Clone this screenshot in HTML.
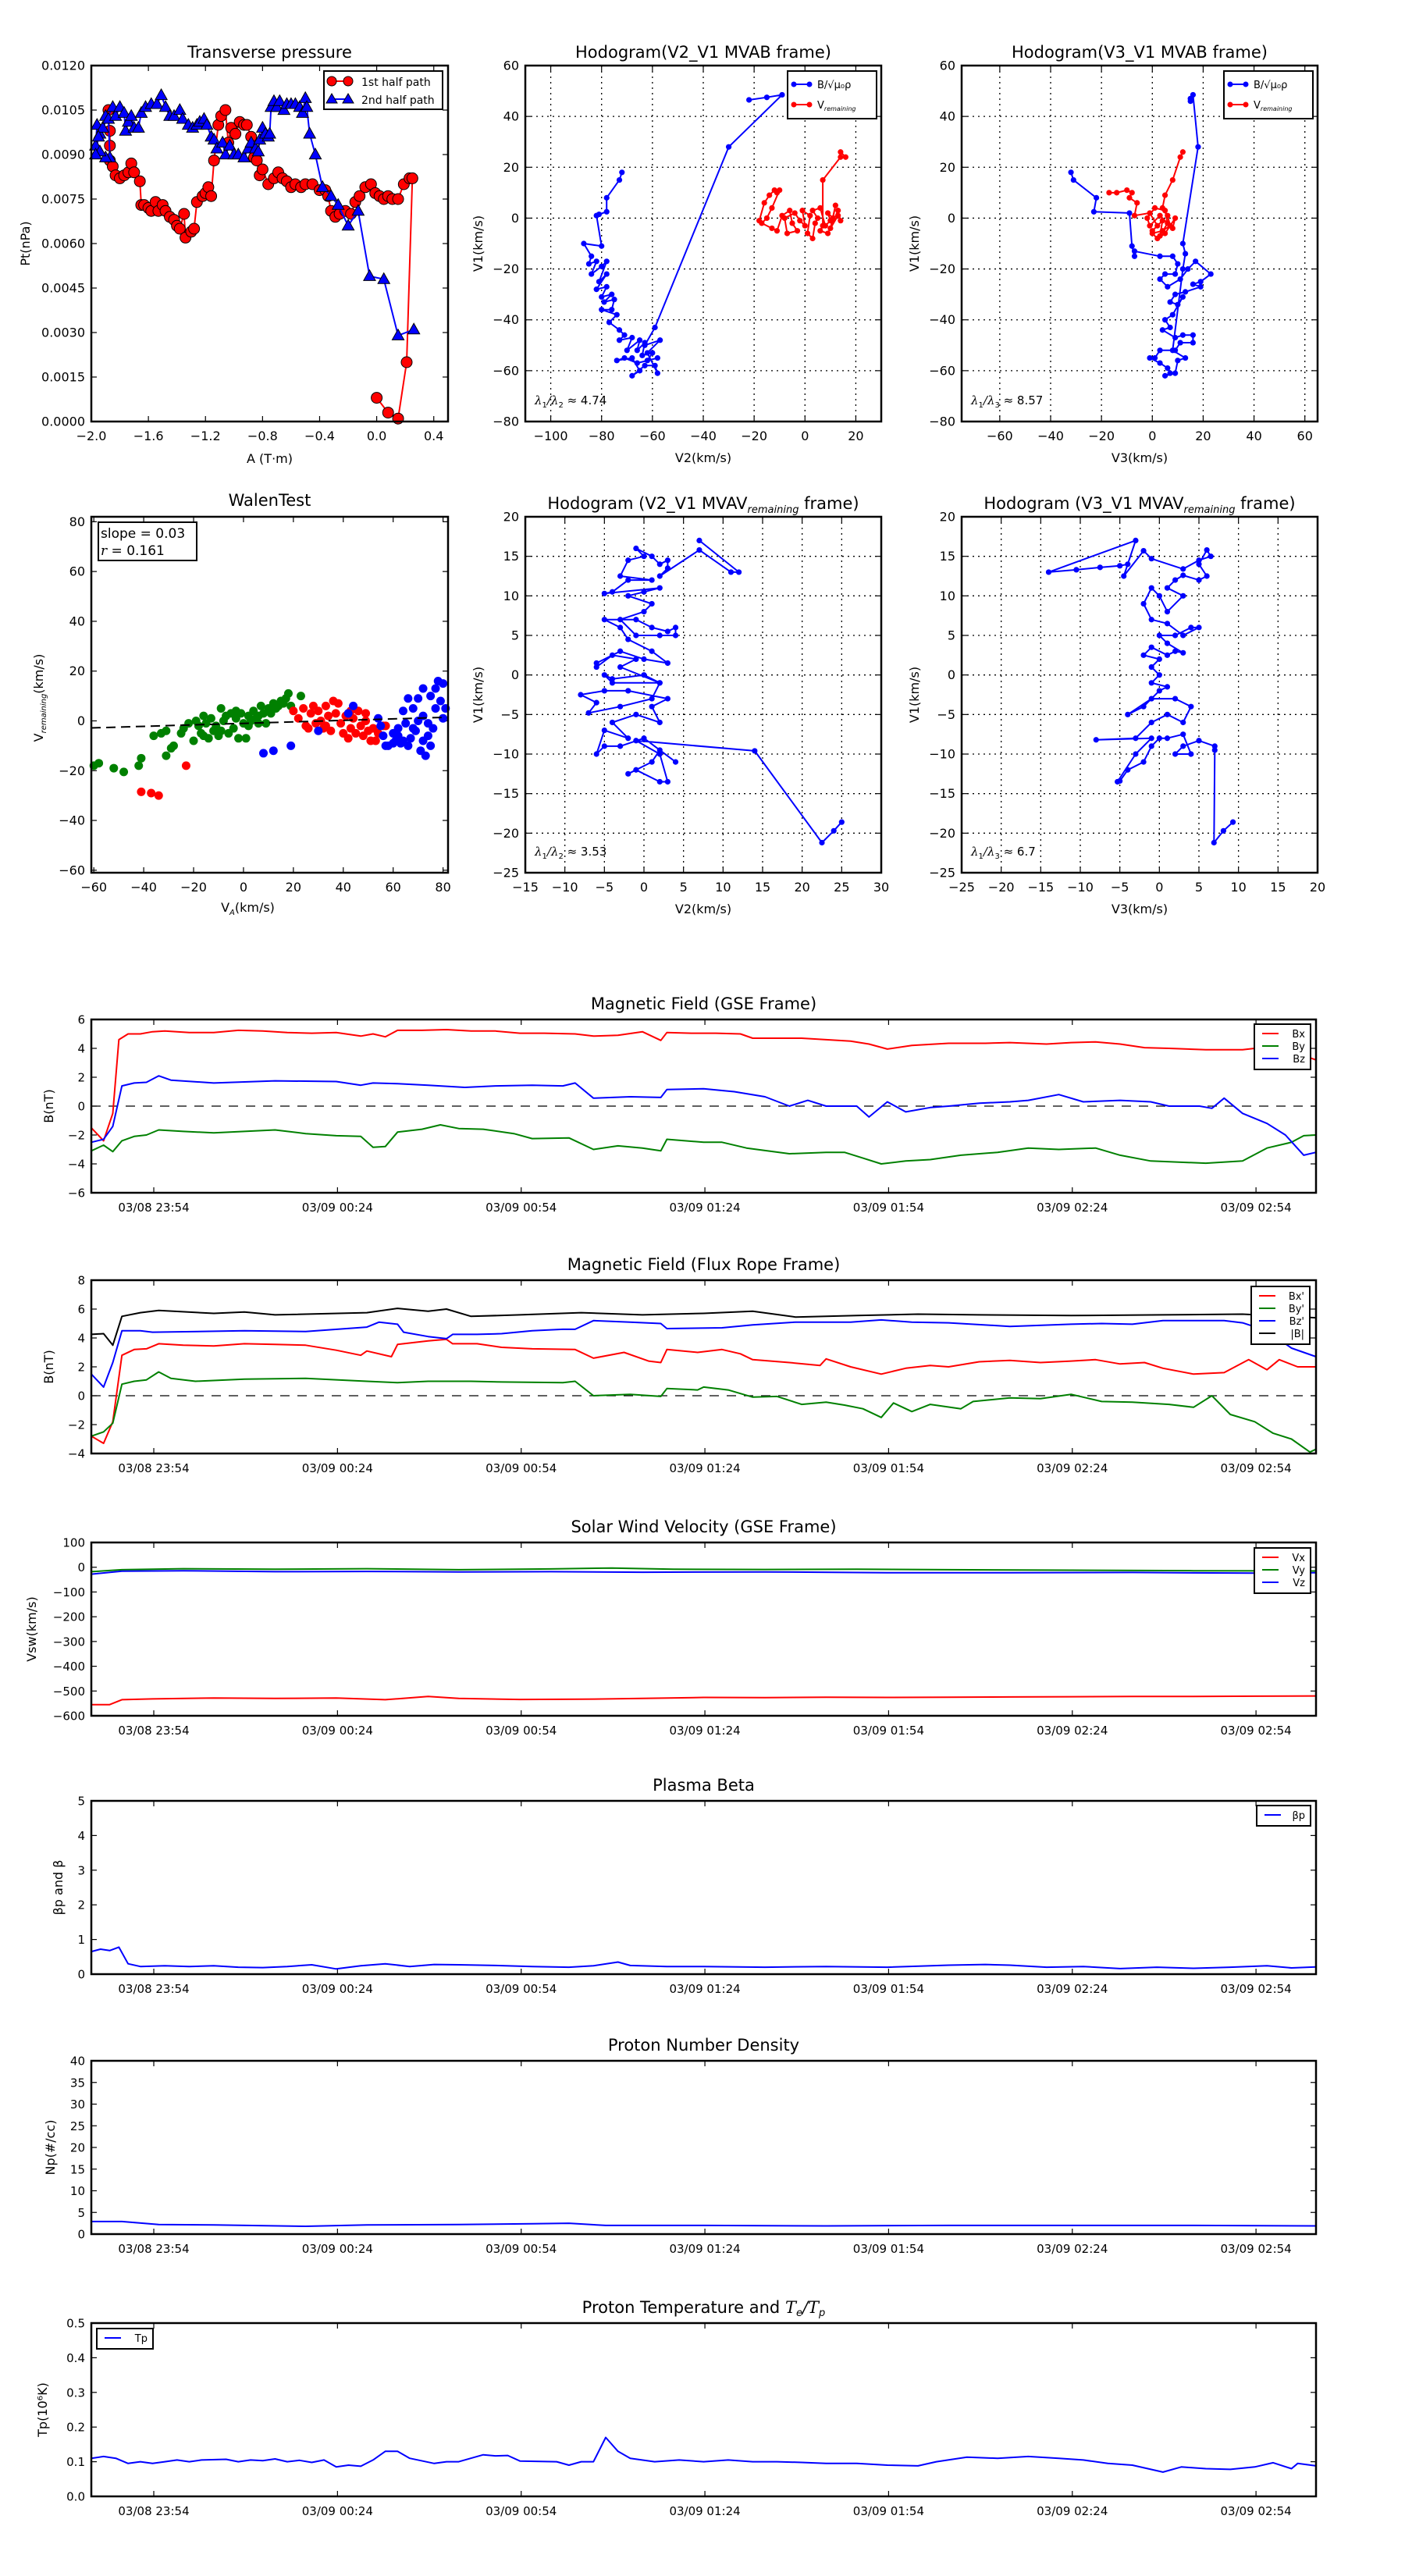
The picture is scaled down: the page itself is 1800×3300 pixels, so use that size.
<!DOCTYPE html>
<html><head><meta charset="utf-8"><style>
html,body{margin:0;padding:0;background:#fff;}
svg{display:block;font-family:"DejaVu Sans","Liberation Sans",sans-serif;}
</style></head><body>
<svg id="fig" width="1800" height="3300" viewBox="0 0 1800 3300" xmlns="http://www.w3.org/2000/svg"></svg>
<script>
// ---------- DATA ----------
const ptRedA=[-1.88,-1.87,-1.87,-1.87,-1.85,-1.83,-1.8,-1.77,-1.74,-1.72,-1.7,-1.66,-1.65,-1.63,-1.6,-1.58,-1.55,-1.53,-1.5,-1.48,-1.45,-1.42,-1.4,-1.38,-1.35,-1.34,-1.3,-1.28,-1.26,-1.22,-1.2,-1.18,-1.16,-1.14,-1.11,-1.09,-1.06,-1.04,-1.02,-0.99,-0.96,-0.93,-0.91,-0.88,-0.86,-0.84,-0.82,-0.8,-0.76,-0.72,-0.69,-0.66,-0.63,-0.6,-0.57,-0.53,-0.5,-0.45,-0.4,-0.36,-0.34,-0.32,-0.29,-0.26,-0.22,-0.18,-0.15,-0.12,-0.08,-0.04,-0.01,0.02,0.05,0.08,0.11,0.15,0.19,0.23,0.25,0.21,0.15,0.08,0.0];
const ptRedP=[0.0105,0.0093,0.0098,0.0088,0.0086,0.0083,0.0082,0.0083,0.0084,0.0087,0.0084,0.0081,0.0073,0.0073,0.0072,0.0071,0.0074,0.0071,0.0073,0.0071,0.0069,0.0068,0.0066,0.0065,0.0070,0.0062,0.0064,0.0065,0.0074,0.0076,0.0077,0.0079,0.0076,0.0088,0.0100,0.0103,0.0105,0.0094,0.0099,0.0097,0.0101,0.0100,0.0100,0.0096,0.0089,0.0088,0.0083,0.0085,0.0080,0.0082,0.0084,0.0082,0.0081,0.0079,0.0080,0.0079,0.0080,0.0080,0.0078,0.0078,0.0076,0.0071,0.0069,0.0070,0.0071,0.0070,0.0074,0.0076,0.0079,0.0080,0.0077,0.0076,0.0075,0.0076,0.0075,0.0075,0.0080,0.0082,0.0082,0.0020,0.0001,0.0003,0.0008];
const ptBlueA=[-1.97,-1.96,-1.94,-1.92,-1.90,-1.88,-1.87,-1.9,-1.94,-1.97,-1.95,-1.85,-1.83,-1.8,-1.77,-1.76,-1.74,-1.72,-1.7,-1.67,-1.65,-1.62,-1.58,-1.54,-1.51,-1.48,-1.45,-1.42,-1.38,-1.36,-1.32,-1.29,-1.26,-1.24,-1.21,-1.19,-1.16,-1.14,-1.12,-1.08,-1.06,-1.03,-1.0,-0.97,-0.93,-0.9,-0.88,-0.85,-0.83,-0.82,-0.8,-0.78,-0.76,-0.75,-0.74,-0.72,-0.7,-0.68,-0.65,-0.63,-0.6,-0.57,-0.54,-0.52,-0.5,-0.49,-0.47,-0.43,-0.38,-0.32,-0.27,-0.2,-0.13,-0.05,0.05,0.15,0.26];
const ptBlueP=[0.0093,0.0100,0.0097,0.0099,0.0103,0.0102,0.0089,0.0089,0.0091,0.0090,0.0096,0.0106,0.0103,0.0106,0.0104,0.0098,0.0101,0.0103,0.0099,0.0099,0.0104,0.0106,0.0107,0.0107,0.0110,0.0106,0.0103,0.0103,0.0105,0.0102,0.0100,0.0099,0.0100,0.0101,0.0102,0.0100,0.0096,0.0095,0.0092,0.0094,0.0090,0.0093,0.0090,0.0090,0.0089,0.0092,0.0094,0.0092,0.0091,0.0095,0.0099,0.0097,0.0096,0.0097,0.0106,0.0108,0.0106,0.0108,0.0105,0.0107,0.0107,0.0107,0.0106,0.0104,0.0109,0.0106,0.0097,0.0090,0.0079,0.0076,0.0073,0.0066,0.0071,0.0049,0.0048,0.0029,0.0031];

const h1BlueV2=[-72,-73,-78,-78,-81,-82,-80,-87,-84,-85,-82,-84,-80,-78,-81,-78,-82,-78,-80,-76,-79,-75,-76,-80,-74,-77,-73,-71,-73,-68,-70,-65,-66,-63,-64,-60,-62,-58,-66,-71,-74,-68,-65,-68,-63,-59,-58,-62,-57,-63,-59,-30,-9,-15,-22];
const h1BlueV1=[18,15,8,2.5,1.5,1,-11,-10,-15,-18,-17,-22,-19,-17,-25,-22,-28,-27,-31,-30,-33,-32,-36,-36,-38,-41,-44,-46,-48,-47,-52,-48,-52,-49,-54,-53,-56,-55,-57,-55,-56,-55,-60,-62,-58,-58,-61,-53,-48,-50,-43,28,48.5,47.5,46.5];
const h1RedV2=[-18,-16,-14,-12,-11,-10,-13,-15,-17,-13,-11,-9,-6,-5,-3,-7,-8,-4,-2,0,-1,2,1,3,4,5,3,6,8,10,9,11,12,10,13,14,13,9,6,7,7,14,16,14];
const h1RedV1=[-1,6,9,11,10,11,4,0,-2,-4,-5,1,3,-2,-5,-6,0,2,-1,-3,3,1,-6,-8,-2,0,3,4,-3,-1,2,0,5,-4,1,-1,3,-6,-5,-3,15,24,24,26];

const h2BlueV3=[-32,-31,-22,-23,-9,-8,-7,-7,3,8,10,9,5,3,6,11,14,17,23,19,16,19,13,9,7,10,12,8,5,7,4,9,12,16,16,11,9,3,1,-1,3,6,7,5,9,10,13,8,12,13,12,18,16,15,15];
const h2BlueV1=[18,15,8,2.5,2,-11,-15,-13,-15,-15,-18,-22,-22,-24,-27,-24,-20,-17,-22,-25,-26,-27,-29,-30,-33,-34,-31,-38,-40,-43,-44,-47,-46,-46,-49,-49,-52,-52,-55,-55,-57,-59,-61,-62,-61,-56,-55,-52,-20,-14,-10,28,48.5,47,46];
const h2RedV3=[-17,-14,-10,-8,-9,-6,-7,-1,2,0,4,3,6,5,1,-2,-1,3,8,9,5,2,0,4,7,6,4,5,8,11,12];
const h2RedV1=[10,10,11,10,8,6,1,2,-3,-5,-1,-7,-2,3,4,0,-3,1,-4,0,-6,-8,-6,-5,-3,1,4,9,15,24,26];

const walGreenX=[-60,-58,-52,-48,-42,-41,-36,-33,-31,-31,-29,-28,-25,-24,-20,-19,-18,-17,-16,-15,-14,-13,-12,-11,-10,-9,-8,-7,-6,-5,-4,-3,-2,-1,0,1,2,3,4,5,6,7,8,9,10,11,12,13,14,15,16,17,18,19,23,-22,-16,-9,-3,2,6];
const walGreenY=[-18,-17,-19,-20.5,-18,-15,-6,-5,-4,-14,-11,-10,-5,-3,-8,0,-2,-5,2,-1,-7,1,-4,-2,-6,5,0,2,-5,3,-3,1,-7,3,-1,-7,2,0,4,1,-1,6,3,-1,5,3,7,5,6,8,7,9,11,6,10,-1,-6,-4,4,-2,2];
const walRedX=[-41,-37,-34,-23,20,22,24,25,27,28,29,30,31,32,33,34,35,36,37,38,39,40,41,42,43,44,45,46,47,48,49,50,51,52,53,54,56,57,26,33,43,49];
const walRedY=[-28.5,-29,-30,-18,4,1,5,-2,3,6,-1,4,0,-3,6,2,-4,8,3,7,-1,-5,2,-7,-3,1,-5,4,-2,-6,0,-4,-8,-3,-8,-5,-2,-2,-3,-2,4,3];
const walBlueX=[8,12,19,30,42,44,54,55,56,58,60,61,62,63,64,65,66,67,68,69,70,71,72,72,73,74,75,75,76,77,78,79,80,81,70,66,62,74,77,68,60,80,57,64,72];
const walBlueY=[-13,-12,-10,-4,3,6,1,-2,-6,-10,-5,-8,-3,-9,4,-1,9,-7,5,-4,9,-12,2,13,-14,-6,10,-10,-3,13,16,8,15,5,0,-10,-6,-1,5,-3,-9,1,-10,-8,-8];
const walFit=[0.03,-1.0]; // slope, intercept

const h3V2=[25,24,22.5,14,-1,2,3,2,-1,-2,1,2,4,0,-3,-5,-6,-5,-2,-4,-1,2,1,3,-2,-5,-8,-6,-7,-3,1,2,-4,-5,-4,0,2,-3,-1,-4,-6,-6,-3,0,3,1,-2,-3,-5,-1,1,3,4,4,2,-1,-3,0,1,-2,0,2,-5,-4,-2,1,-3,-2,0,-1,1,2,3,3,2,7,11,12,7];
const h3V1=[-18.6,-19.7,-21.2,-9.6,-8.3,-10,-13.5,-13.5,-12,-12.5,-11,-9.5,-11,-8,-9,-9,-10,-7,-8,-6,-5,-6,-4,-3,-2,-2,-2.5,-3.5,-4.8,-4,-3,-1,-1,0,-0.5,0,-1,1,2,2.5,1,1.5,3,2,1.5,3,4.5,6,7,7,6,5.5,6,5,5,5,7,8,9,10,10.5,11,10.3,10.5,12,12,12.5,14.5,15,16,15,14,14.5,13.5,12.5,15.8,13,13,17];
const h4V3=[9.3,8.1,6.9,7,7,5,3,2,4,3,1,0,-1,-2,-4,-5,-5.3,-3,-1,-8,-3,-1,1,3,4,2,-1,-4,-2,0,1,-1,0,-1,0,-2,-1,1,2,3,1,0,2,4,5,3,1,-1,-2,-1,0,1,3,1,2,3,5,6,5,6,6.5,5,3,-1,-2,-4.5,-3,-14,-10.5,-7.5,-5,-4];
const h4V1=[-18.6,-19.7,-21.2,-9.5,-9,-8.3,-9,-10,-10,-7.5,-8,-8,-9,-11,-12,-13.4,-13.5,-10,-8,-8.2,-8,-6,-5,-6,-4,-3,-3,-5,-4,-2,-1.5,-1,0,1,2,2.5,3.5,2.5,3,2.8,4,5,5,6,6,5,6.5,7,9,11,10,8,10,11,12,12.6,12,12.5,14,15.8,15,14.5,13.4,14.7,15.7,12.5,17,13,13.3,13.6,13.8,14];

// time series: [minute offset from 23:43.8, value]
const tickMinutes=[10.2,40.2,70.2,100.2,130.2,160.2,190.2];
const tickLabels=["03/08 23:54","03/09 00:24","03/09 00:54","03/09 01:24","03/09 01:54","03/09 02:24","03/09 02:54"];
const bxGse=[[0,-1.5],[2,-2.4],[3.5,-0.5],[4.5,4.6],[6,5.0],[8,5.0],[10,5.15],[12,5.2],[16,5.1],[20,5.1],[24,5.25],[28,5.2],[32,5.1],[36,5.05],[40,5.1],[44,4.85],[46,5.0],[48,4.8],[50,5.25],[54,5.25],[58,5.3],[62,5.2],[66,5.2],[70,5.05],[74,5.05],[79,5.0],[82,4.85],[86,4.9],[90,5.15],[93,4.55],[94,5.1],[98,5.05],[102,5.05],[106,5.0],[108,4.7],[112,4.7],[116,4.7],[120,4.6],[124,4.5],[127,4.3],[130,3.95],[134,4.2],[140,4.35],[146,4.35],[150,4.4],[156,4.3],[160,4.4],[164,4.45],[168,4.3],[172,4.05],[176,4.0],[182,3.9],[188,3.9],[192,4.1],[196,3.8],[200,3.2]];
const byGse=[[0,-3.1],[2,-2.7],[3.5,-3.15],[5,-2.4],[7,-2.1],[9,-2.0],[11,-1.65],[15,-1.75],[20,-1.85],[25,-1.75],[30,-1.65],[35,-1.9],[40,-2.05],[44,-2.1],[46,-2.85],[48,-2.8],[50,-1.8],[54,-1.6],[57,-1.3],[60,-1.55],[64,-1.6],[69,-1.9],[72,-2.25],[78,-2.2],[82,-3.0],[86,-2.75],[90,-2.9],[93,-3.1],[94,-2.3],[100,-2.5],[103,-2.5],[107,-2.9],[114,-3.3],[120,-3.2],[123,-3.2],[126,-3.6],[129,-4.0],[133,-3.8],[137,-3.7],[142,-3.4],[148,-3.2],[153,-2.9],[158,-3.0],[164,-2.9],[168,-3.4],[173,-3.8],[182,-3.95],[188,-3.8],[192,-2.9],[196,-2.5],[198,-2.05],[200,-2.0]];
const bzGse=[[0,-2.5],[2,-2.3],[3.5,-1.4],[5,1.4],[7,1.6],[9,1.65],[11,2.1],[13,1.8],[20,1.6],[30,1.75],[40,1.7],[44,1.45],[46,1.6],[50,1.55],[55,1.45],[61,1.3],[66,1.4],[72,1.45],[77,1.4],[79,1.6],[82,0.55],[88,0.65],[93,0.6],[94,1.15],[100,1.2],[105,1.0],[110,0.65],[114,0.0],[117,0.4],[120,0.0],[125,0.0],[127,-0.75],[130,0.3],[133,-0.4],[137,-0.1],[140,0.0],[145,0.2],[150,0.3],[153,0.4],[158,0.8],[162,0.3],[168,0.4],[173,0.3],[176,0.0],[181,0.0],[183,-0.15],[185,0.55],[188,-0.5],[192,-1.2],[195,-2.0],[198,-3.4],[200,-3.2]];
const bxFr=[[0,-2.8],[2,-3.3],[3.5,-1.8],[5,2.8],[7,3.2],[9,3.25],[11,3.6],[15,3.5],[20,3.45],[25,3.6],[30,3.55],[35,3.5],[40,3.15],[44,2.8],[45,3.1],[49,2.7],[50,3.55],[55,3.8],[58,3.9],[59,3.6],[63,3.6],[67,3.35],[72,3.25],[79,3.2],[82,2.6],[87,3.0],[91,2.4],[93,2.3],[94,3.2],[99,3.0],[103,3.2],[106,2.9],[108,2.5],[114,2.3],[119,2.1],[120,2.55],[124,2.0],[129,1.5],[133,1.9],[137,2.1],[140,2.0],[145,2.35],[150,2.45],[155,2.3],[160,2.4],[164,2.5],[168,2.2],[172,2.3],[175,1.9],[180,1.5],[185,1.6],[189,2.5],[192,1.8],[194,2.5],[197,2.0],[200,2.0]];
const byFr=[[0,-2.8],[2,-2.5],[3.5,-1.9],[5,0.8],[7,1.0],[9,1.1],[11,1.65],[13,1.2],[17,1.0],[25,1.15],[35,1.2],[45,1.0],[50,0.9],[55,1.0],[62,1.0],[67,0.95],[77,0.9],[79,1.0],[82,0.0],[88,0.1],[93,-0.05],[94,0.5],[99,0.4],[100,0.6],[104,0.4],[108,-0.1],[112,-0.05],[116,-0.6],[120,-0.45],[123,-0.65],[126,-0.9],[129,-1.5],[131,-0.5],[134,-1.1],[137,-0.6],[142,-0.9],[144,-0.4],[150,-0.15],[155,-0.2],[160,0.1],[165,-0.4],[170,-0.45],[176,-0.6],[180,-0.8],[183,0.0],[186,-1.3],[190,-1.8],[193,-2.6],[196,-3.0],[199,-3.9],[200,-3.7]];
const bzFr=[[0,1.5],[2,0.6],[3.5,2.3],[5,4.5],[8,4.5],[10,4.4],[25,4.5],[35,4.45],[45,4.75],[47,5.1],[50,4.95],[51,4.4],[55,4.1],[58,3.95],[59,4.25],[63,4.25],[67,4.3],[72,4.5],[77,4.6],[79,4.6],[82,5.2],[88,5.1],[93,5.0],[94,4.65],[103,4.7],[108,4.9],[115,5.1],[124,5.1],[129,5.25],[134,5.1],[140,5.05],[150,4.8],[160,4.95],[165,5.0],[170,4.95],[175,5.2],[185,5.2],[188,5.05],[192,4.5],[196,3.3],[200,2.7]];
const bMag=[[0,4.25],[2,4.3],[3.5,3.5],[5,5.5],[8,5.75],[11,5.9],[20,5.7],[25,5.8],[30,5.6],[45,5.75],[50,6.05],[55,5.85],[58,6.0],[62,5.5],[70,5.6],[80,5.75],[90,5.6],[100,5.7],[108,5.85],[115,5.45],[125,5.55],[135,5.65],[145,5.6],[160,5.55],[175,5.6],[188,5.65],[195,5.5],[200,5.4]];
const vxGse=[[0,-555],[3,-555],[5,-535],[10,-532],[20,-528],[30,-530],[40,-528],[48,-535],[55,-522],[60,-530],[70,-534],[80,-533],[90,-530],[100,-526],[110,-527],[120,-525],[130,-526],[140,-525],[150,-524],[160,-523],[170,-522],[180,-522],[190,-521],[200,-520]];
const vyGse=[[0,-18],[5,-10],[15,-6],[30,-8],[45,-6],[60,-10],[75,-7],[85,-3],[95,-8],[110,-9],[125,-8],[140,-10],[160,-12],[180,-14],[200,-15]];
const vzGse=[[0,-28],[5,-16],[15,-14],[30,-18],[45,-17],[60,-19],[75,-18],[90,-20],[110,-19],[130,-22],[150,-22],[170,-21],[190,-24],[200,-22]];
const betaP=[[0,0.65],[1.5,0.72],[3,0.68],[4.5,0.78],[6,0.3],[8,0.22],[12,0.24],[16,0.22],[20,0.24],[24,0.2],[28,0.19],[32,0.22],[36,0.27],[40,0.15],[44,0.24],[48,0.3],[52,0.22],[56,0.28],[60,0.27],[66,0.25],[72,0.22],[78,0.2],[82,0.24],[86,0.35],[88,0.25],[94,0.22],[100,0.22],[110,0.2],[120,0.22],[130,0.2],[140,0.26],[146,0.28],[150,0.26],[156,0.2],[162,0.22],[168,0.16],[174,0.2],[180,0.17],[186,0.2],[192,0.24],[196,0.18],[200,0.21]];
const npData=[[0,2.9],[5,2.9],[11,2.2],[20,2.1],[35,1.8],[45,2.1],[60,2.2],[72,2.4],[78,2.5],[84,2.0],[100,2.0],[120,1.9],[140,2.0],[160,2.0],[180,2.0],[200,1.9]];
const tpData=[[0,0.11],[2,0.115],[4,0.11],[6,0.095],[8,0.1],[10,0.095],[12,0.1],[14,0.105],[16,0.1],[18,0.105],[22,0.107],[24,0.1],[26,0.105],[28,0.103],[30,0.108],[32,0.1],[34,0.104],[36,0.098],[38,0.105],[40,0.085],[42,0.09],[44,0.087],[46,0.105],[48,0.13],[50,0.13],[52,0.11],[56,0.095],[58,0.1],[60,0.1],[64,0.12],[66,0.117],[68,0.118],[70,0.102],[76,0.1],[78,0.09],[80,0.1],[82,0.1],[84,0.17],[86,0.13],[88,0.11],[92,0.1],[96,0.105],[100,0.1],[104,0.105],[108,0.1],[112,0.1],[116,0.098],[120,0.095],[125,0.095],[130,0.09],[135,0.088],[138,0.1],[143,0.113],[148,0.11],[153,0.115],[158,0.11],[162,0.105],[166,0.095],[170,0.09],[175,0.07],[178,0.085],[182,0.08],[186,0.078],[190,0.085],[193,0.097],[196,0.08],[197,0.095],[200,0.088]];

// ---------- HELPERS ----------
const NS="http://www.w3.org/2000/svg";
const fig=document.getElementById('fig');
function el(tag,attrs,parent){const e=document.createElementNS(NS,tag);for(const k in attrs)e.setAttribute(k,attrs[k]);(parent||fig).appendChild(e);return e;}
function txt(s,x,y,size,anchor,parent,extra){const t=el('text',Object.assign({x:x,y:y,'font-size':size,'text-anchor':anchor||'middle',fill:'#000'},extra||{}),parent);t.textContent=s;return t;}
function lin(d0,d1,p0,p1){return v=>p0+(v-d0)*(p1-p0)/(d1-d0);}

function frame(g,L,T,R,B){
  const r=el('rect',{x:L,y:T,width:R-L,height:B-T,fill:'none',stroke:'#000','stroke-width':2.5},g);
  
  
}
function yTicks(g,vals,labels,sy,L,R,size,grid){
  vals.forEach((v,i)=>{
    const y=sy(v);
    if(grid){const gl=el('line',{x1:L,x2:R,y1:y,y2:y,stroke:'#000','stroke-width':1.3,'stroke-dasharray':'2,5'},g);}
    el('line',{x1:L,x2:L+7,y1:y,y2:y,stroke:'#000','stroke-width':1.2},g);
    el('line',{x1:R-7,x2:R,y1:y,y2:y,stroke:'#000','stroke-width':1.2},g);
    const t=txt(labels[i],L-8,y+5.5,size,'end',g);
    
    
  });
}
function xTicks(g,vals,labels,sx,T,B,size,grid){
  vals.forEach((v,i)=>{
    const x=sx(v);
    if(grid){const gl=el('line',{x1:x,x2:x,y1:T,y2:B,stroke:'#000','stroke-width':1.3,'stroke-dasharray':'2,5'},g);}
    el('line',{x1:x,x2:x,y1:B,y2:B-7,stroke:'#000','stroke-width':1.2},g);
    el('line',{x1:x,x2:x,y1:T,y2:T+7,stroke:'#000','stroke-width':1.2},g);
    const t=txt(labels[i],x,B+24,size,'middle',g);
    
    
  });
}
function polyline(g,xs,ys,sx,sy,color,w,name){
  const pts=xs.map((x,i)=>sx(x).toFixed(1)+','+sy(ys[i]).toFixed(1)).join(' ');
  const p=el('polyline',{points:pts,fill:'none',stroke:color,'stroke-width':w,'stroke-linejoin':'round'},g);
  
  
  return p;
}
function dots(g,xs,ys,sx,sy,color,r,name,stroke){
  xs.forEach((x,i)=>{
    const c=el('circle',{cx:sx(x),cy:sy(ys[i]),r:r,fill:color,stroke:stroke||color,'stroke-width':stroke?1:0},g);
    
    
  });
}
function tris(g,xs,ys,sx,sy,color,r,name){
  xs.forEach((x,i)=>{
    const cx=sx(x),cy=sy(ys[i]);
    const p=el('polygon',{points:`${cx},${cy-r} ${cx-r*0.95},${cy+r*0.7} ${cx+r*0.95},${cy+r*0.7}`,fill:color,stroke:'#000','stroke-width':1},g);
    
    
  });
}
function range(a,b,s){const r=[];for(let v=a;v<=b+1e-9;v+=s)r.push(+v.toFixed(6));return r;}
function mlab(v){return v<0?'\u2212'+Math.abs(v):String(v);}
function mlabf(v,d){return (v<0?'\u2212':'')+Math.abs(v).toFixed(d);}

// ---------- PANEL 1: Transverse pressure ----------
(function(){
  const g=el('g',{});
  const L=117,R=574,T=84,B=540;
  const sx=lin(-2,0.5,L,R), sy=lin(0,0.012,B,T);
  const xv=range(-2,0.4,0.4), yv=range(0,0.012,0.0015);
  xTicks(g,xv,xv.map(v=>mlabf(v,1)),sx,T,B,16);
  yTicks(g,yv,yv.map(v=>v.toFixed(4)),sy,L,R,16);
  polyline(g,ptRedA,ptRedP,sx,sy,'#ff0000',2,'first-half-path-line');
  dots(g,ptRedA,ptRedP,sx,sy,'#ff0000',7,'first-half-marker','#000');
  polyline(g,ptBlueA,ptBlueP,sx,sy,'#0000ff',2,'second-half-path-line');
  tris(g,ptBlueA,ptBlueP,sx,sy,'#0000ff',8,'second-half-marker');
  frame(g,L,T,R,B);
  const tt=txt('Transverse pressure',(L+R)/2,74,21,'middle',g);
  const xl=txt('A (T\u00b7m)',(L+R)/2,593,16,'middle',g);
  const yl=txt('Pt(nPa)',0,0,16,'middle',g,{transform:'translate(38,312) rotate(-90)'});
  const lg=el('g',{},g);
  el('rect',{x:415,y:91,width:152,height:49,fill:'#fff',stroke:'#000','stroke-width':2},lg);
  el('line',{x1:425,x2:446,y1:104,y2:104,stroke:'#ff0000','stroke-width':2},lg);
  el('circle',{cx:425,cy:104,r:6,fill:'#ff0000',stroke:'#000'},lg);el('circle',{cx:446,cy:104,r:6,fill:'#ff0000',stroke:'#000'},lg);
  el('line',{x1:425,x2:446,y1:127,y2:127,stroke:'#0000ff','stroke-width':2},lg);
  [425,446].forEach(cx=>el('polygon',{points:`${cx},${120} ${cx-7},${132} ${cx+7},${132}`,fill:'#0000ff',stroke:'#000'},lg));
  txt('1st half path',463,110,14,'start',lg);txt('2nd half path',463,133,14,'start',lg);
})();

// ---------- generic hodogram ----------
function hodo(cfg){
  const g=el('g',{});
  const {L,R,T,B}=cfg;
  const sx=lin(cfg.xmin,cfg.xmax,L,R), sy=lin(cfg.ymin,cfg.ymax,B,T);
  xTicks(g,cfg.xt,cfg.xt.map(mlab),sx,T,B,16,true);
  yTicks(g,cfg.yt,cfg.yt.map(mlab),sy,L,R,16,true);
  cfg.series.forEach(s=>{polyline(g,s.x,s.y,sx,sy,s.c,2,s.n+'-line');dots(g,s.x,s.y,sx,sy,s.c,3.6,s.n+'-point');});
  frame(g,L,T,R,B);
  const tt=txt(cfg.title,(L+R)/2,T-10,21,'middle',g);
  if(cfg.titleSub){tt.textContent=cfg.title;const ts=el('tspan',{'font-size':13,'font-style':'italic',dy:5},tt);ts.textContent=cfg.titleSub;const t3=el('tspan',{dy:-5},tt);t3.textContent=' frame)';}
  const xl=txt(cfg.xlab,(L+R)/2,B+52,16,'middle',g);
  const yl=txt('V1(km/s)',0,0,16,'middle',g,{transform:`translate(${L-55},${(T+B)/2}) rotate(-90)`});
  const lam=txt('',L+12,B-22,15,'start',g);
  const a=el('tspan',{'font-style':'italic','font-family':'DejaVu Serif, serif'},lam);a.textContent='\u03bb';
  const b=el('tspan',{'font-size':10,dy:4},lam);b.textContent='1';
  const c=el('tspan',{dy:-4,'font-style':'italic','font-family':'DejaVu Serif, serif'},lam);c.textContent='/\u03bb';
  const d=el('tspan',{'font-size':10,dy:4},lam);d.textContent=cfg.lamIdx;
  const e2=el('tspan',{dy:-4},lam);e2.textContent=' \u2248 '+cfg.lam;
  if(cfg.legend){
    const lg=el('g',{},g);
    const lx=R-120,ly=T+7;
    el('rect',{x:lx,y:ly,width:114,height:61,fill:'#fff',stroke:'#000','stroke-width':2},lg);
    el('line',{x1:lx+8,x2:lx+28,y1:ly+17,y2:ly+17,stroke:'#0000ff','stroke-width':2},lg);
    el('circle',{cx:lx+8,cy:ly+17,r:3.5,fill:'#0000ff'},lg);el('circle',{cx:lx+28,cy:ly+17,r:3.5,fill:'#0000ff'},lg);
    el('line',{x1:lx+8,x2:lx+28,y1:ly+43,y2:ly+43,stroke:'#ff0000','stroke-width':2},lg);
    el('circle',{cx:lx+8,cy:ly+43,r:3.5,fill:'#ff0000'},lg);el('circle',{cx:lx+28,cy:ly+43,r:3.5,fill:'#ff0000'},lg);
    txt('B/\u221a\u03bc\u2080\u03c1',lx+38,ly+22,13,'start',lg);
    const vt=txt('V',lx+38,ly+48,13,'start',lg);const vs=el('tspan',{'font-size':8,'font-style':'italic',dy:3},vt);vs.textContent='remaining';
  }
}
hodo({name:'hodogram-v2-v1-mvab',L:673,R:1129,T:84,B:540,xmin:-110,xmax:30,ymin:-80,ymax:60,xt:range(-100,20,20),yt:range(-80,60,20),
  title:'Hodogram(V2_V1 MVAB frame)',xlab:'V2(km/s)',lam:'4.74',lamIdx:'2',legend:true,
  series:[{x:h1BlueV2,y:h1BlueV1,c:'#0000ff',n:'b-alfven'},{x:h1RedV2,y:h1RedV1,c:'#ff0000',n:'v-remaining'}]});
hodo({name:'hodogram-v3-v1-mvab',L:1232,R:1688,T:84,B:540,xmin:-75,xmax:65,ymin:-80,ymax:60,xt:range(-60,60,20),yt:range(-80,60,20),
  title:'Hodogram(V3_V1 MVAB frame)',xlab:'V3(km/s)',lam:'8.57',lamIdx:'3',legend:true,
  series:[{x:h2BlueV3,y:h2BlueV1,c:'#0000ff',n:'b-alfven'},{x:h2RedV3,y:h2RedV1,c:'#ff0000',n:'v-remaining'}]});
hodo({name:'hodogram-v2-v1-mvav',L:673,R:1129,T:662,B:1118,xmin:-15,xmax:30,ymin:-25,ymax:20,xt:range(-15,30,5),yt:range(-25,20,5),
  title:'Hodogram (V2_V1 MVAV',titleSub:'remaining',xlab:'V2(km/s)',lam:'3.53',lamIdx:'2',
  series:[{x:h3V2,y:h3V1,c:'#0000ff',n:'hodogram-path'}]});
hodo({name:'hodogram-v3-v1-mvav',L:1232,R:1688,T:662,B:1118,xmin:-25,xmax:20,ymin:-25,ymax:20,xt:range(-25,20,5),yt:range(-25,20,5),
  title:'Hodogram (V3_V1 MVAV',titleSub:'remaining',xlab:'V3(km/s)',lam:'6.7',lamIdx:'3',
  series:[{x:h4V3,y:h4V1,c:'#0000ff',n:'hodogram-path'}]});

// ---------- Walen test ----------
(function(){
  const g=el('g',{});
  const L=117,R=574,T=662,B=1118;
  const sx=lin(-61,82,L,R), sy=lin(-61,82,B,T);
  const xv=range(-60,80,20), yv=range(-60,80,20);
  xTicks(g,xv,xv.map(mlab),sx,T,B,16);
  yTicks(g,yv,yv.map(mlab),sy,L,R,16);
  dots(g,walGreenX,walGreenY,sx,sy,'#008000',5.5,'walen-point-green');
  dots(g,walRedX,walRedY,sx,sy,'#ff0000',5.5,'walen-point-red');
  dots(g,walBlueX,walBlueY,sx,sy,'#0000ff',5.5,'walen-point-blue');
  const fl=el('line',{x1:sx(-61),y1:sy(walFit[0]*-61+walFit[1]),x2:sx(82),y2:sy(walFit[0]*82+walFit[1]),stroke:'#000','stroke-width':2,'stroke-dasharray':'12,7'},g);
  
  frame(g,L,T,R,B);
  const tt=txt('WalenTest',(L+R)/2,T-14,21,'middle',g);
  const bx=el('g',{},g);
  el('rect',{x:126,y:669,width:126,height:49,fill:'#fff',stroke:'#000','stroke-width':2},bx);
  txt('slope = 0.03',129,689,17,'start',bx);
  const r=txt('',129,711,17,'start',bx);const ri=el('tspan',{'font-style':'italic','font-family':'DejaVu Serif, serif'},r);ri.textContent='r';const r2=el('tspan',{},r);r2.textContent=' = 0.161';
  const xl=txt('V',(L+R)/2-28,B+50,16,'middle',g);
  const xs=el('tspan',{'font-size':10,'font-style':'italic',dy:4},xl);xs.textContent='A';const xr=el('tspan',{dy:-4},xl);xr.textContent='(km/s)';
  const yl=txt('V',0,0,16,'middle',g,{transform:`translate(55,${(T+B)/2+4}) rotate(-90)`});
  const ys=el('tspan',{'font-size':10,'font-style':'italic',dy:4},yl);ys.textContent='remaining';const yr=el('tspan',{dy:-4},yl);yr.textContent='(km/s)';
})();

// ---------- time series ----------
const TL=117,TR=1686,TSPAN=200;
function tsPanel(cfg){
  const g=el('g',{});
  const T=cfg.T,B=cfg.T+222;
  const sx=lin(0,TSPAN,TL,TR), sy=lin(cfg.ymin,cfg.ymax,B,T);
  xTicks(g,tickMinutes,tickLabels,sx,T,B,15);
  yTicks(g,cfg.yt,cfg.yl,sy,TL,TR,15);
  if(cfg.zero){const z=el('line',{x1:TL,x2:TR,y1:sy(0),y2:sy(0),stroke:'#000','stroke-width':1.3,'stroke-dasharray':'12,10'},g);}
  cfg.series.forEach(s=>polyline(g,s.d.map(p=>p[0]),s.d.map(p=>p[1]),sx,sy,s.c,2,s.n+'-line'));
  frame(g,TL,T,TR,B);
  const tt=txt(cfg.title,(TL+TR)/2,T-13,21,'middle',g);
  if(cfg.titleExtra)cfg.titleExtra(tt);
  const yl=txt(cfg.ylab,0,0,16,'middle',g,{transform:`translate(${cfg.ylx},${T+111}) rotate(-90)`});
  if(cfg.legend){
    const lg=el('g',{},g);
    const lx=cfg.legend.x,ly=cfg.legend.y,w=cfg.legend.w,n=cfg.series.length;
    el('rect',{x:lx,y:ly,width:w,height:n*16+10,fill:'#fff',stroke:'#000','stroke-width':2},lg);
    cfg.series.forEach((s,i)=>{
      const yy=ly+12+i*16;
      el('line',{x1:lx+10,x2:lx+31,y1:yy,y2:yy,stroke:s.c,'stroke-width':2},lg);
      txt(s.label,lx+w-7,yy+5,13,'end',lg);
    });
  }
}
tsPanel({name:'magnetic-field-gse-panel',T:1306,ymin:-6,ymax:6,yt:range(-6,6,2),yl:range(-6,6,2).map(mlab),zero:true,
  title:'Magnetic Field (GSE Frame)',ylab:'B(nT)',ylx:68,legend:{x:1607,y:1312,w:72},
  series:[{d:bxGse,c:'#ff0000',n:'bx',label:'Bx'},{d:byGse,c:'#008000',n:'by',label:'By'},{d:bzGse,c:'#0000ff',n:'bz',label:'Bz'}]});
tsPanel({name:'magnetic-field-flux-rope-panel',T:1640,ymin:-4,ymax:8,yt:range(-4,8,2),yl:range(-4,8,2).map(mlab),zero:true,
  title:'Magnetic Field (Flux Rope Frame)',ylab:'B(nT)',ylx:68,legend:{x:1603,y:1648,w:75},
  series:[{d:bxFr,c:'#ff0000',n:'bx-prime',label:"Bx'"},{d:byFr,c:'#008000',n:'by-prime',label:"By'"},{d:bzFr,c:'#0000ff',n:'bz-prime',label:"Bz'"},{d:bMag,c:'#000000',n:'b-magnitude',label:'|B|'}]});
tsPanel({name:'solar-wind-velocity-panel',T:1976,ymin:-600,ymax:100,yt:range(-600,100,100),yl:range(-600,100,100).map(mlab),
  title:'Solar Wind Velocity (GSE Frame)',ylab:'Vsw(km/s)',ylx:46,legend:{x:1607,y:1983,w:72},
  series:[{d:vxGse,c:'#ff0000',n:'vx',label:'Vx'},{d:vyGse,c:'#008000',n:'vy',label:'Vy'},{d:vzGse,c:'#0000ff',n:'vz',label:'Vz'}]});
tsPanel({name:'plasma-beta-panel',T:2307,ymin:0,ymax:5,yt:range(0,5,1),yl:range(0,5,1).map(String),
  title:'Plasma Beta',ylab:'\u03b2p and \u03b2',ylx:80,legend:{x:1610,y:2313,w:69},
  series:[{d:betaP,c:'#0000ff',n:'beta-p',label:'\u03b2p'}]});
tsPanel({name:'proton-density-panel',T:2640,ymin:0,ymax:40,yt:range(0,40,5),yl:range(0,40,5).map(String),
  title:'Proton Number Density',ylab:'Np(#/cc)',ylx:70,
  series:[{d:npData,c:'#0000ff',n:'np'}]});
tsPanel({name:'proton-temperature-panel',T:2976,ymin:0,ymax:0.5,yt:range(0,0.5,0.1),yl:range(0,0.5,0.1).map(v=>v.toFixed(1)),
  title:'Proton Temperature and ',ylab:'Tp(10\u2076K)',ylx:60,legend:{x:124,y:2983,w:72},
  titleExtra:t=>{const a=el('tspan',{'font-style':'italic','font-family':'DejaVu Serif, serif'},t);a.textContent='T';const b=el('tspan',{'font-size':13,'font-style':'italic',dy:4},t);b.textContent='e';const c=el('tspan',{'font-style':'italic','font-family':'DejaVu Serif, serif',dy:-4},t);c.textContent='/T';const d=el('tspan',{'font-size':13,'font-style':'italic',dy:4},t);d.textContent='p';},
  series:[{d:tpData,c:'#0000ff',n:'tp',label:'Tp'}]});
</script>
</body></html>
